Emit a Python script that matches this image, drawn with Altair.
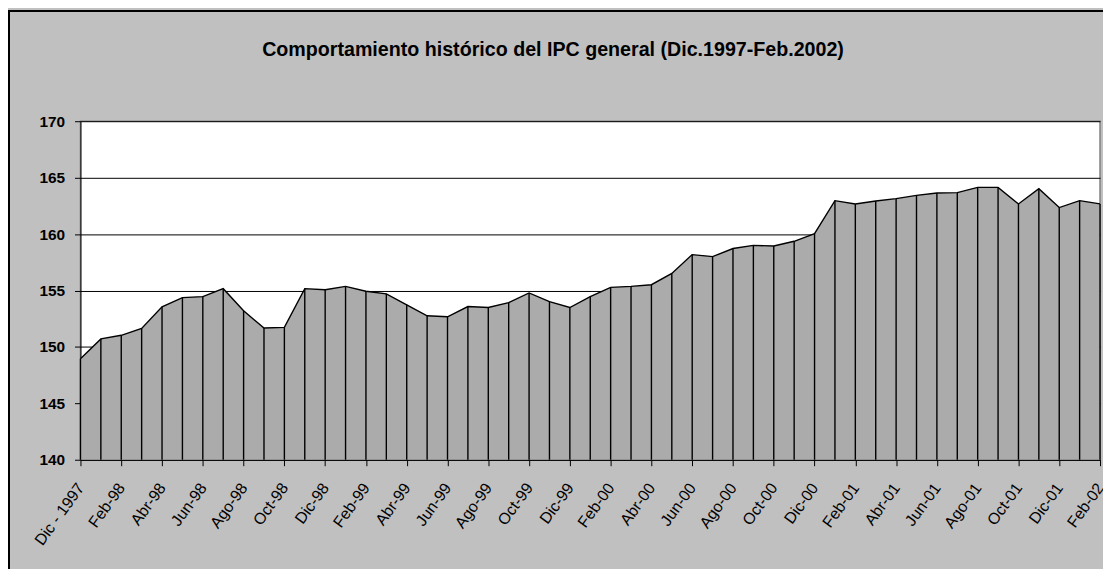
import altair as alt
import pandas as pd

months = [
    "Dic - 1997", "Ene-98", "Feb-98", "Mar-98", "Abr-98", "May-98", "Jun-98", "Jul-98",
    "Ago-98", "Sep-98", "Oct-98", "Nov-98", "Dic-98", "Ene-99", "Feb-99", "Mar-99",
    "Abr-99", "May-99", "Jun-99", "Jul-99", "Ago-99", "Sep-99", "Oct-99", "Nov-99",
    "Dic-99", "Ene-00", "Feb-00", "Mar-00", "Abr-00", "May-00", "Jun-00", "Jul-00",
    "Ago-00", "Sep-00", "Oct-00", "Nov-00", "Dic-00", "Ene-01", "Feb-01", "Mar-01",
    "Abr-01", "May-01", "Jun-01", "Jul-01", "Ago-01", "Sep-01", "Oct-01", "Nov-01",
    "Dic-01", "Ene-02", "Feb-02",
]
ipc = [
    148.95, 150.71, 151.03, 151.64, 153.55, 154.37, 154.46, 155.16, 153.20, 151.67,
    151.73, 155.16, 155.07, 155.36, 154.93, 154.70, 153.73, 152.76, 152.67, 153.58,
    153.49, 153.93, 154.78, 154.02, 153.49, 154.46, 155.28, 155.36, 155.51, 156.51,
    158.18, 158.00, 158.72, 159.00, 158.94, 159.36, 160.03, 162.96, 162.67, 162.93,
    163.14, 163.43, 163.64, 163.67, 164.14, 164.14, 162.67, 164.02, 162.35, 162.96,
    162.67,
]
tick_labels = [m if i % 2 == 0 else "" for i, m in enumerate(months)]
title_text = ["Comportamiento histórico del IPC general (Dic.1997-Feb.2002)"]

df = pd.DataFrame({"idx": list(range(len(ipc))), "mes": months, "ipc": ipc, "base": [140] * len(ipc)})

W, H = 1027, 341
PL, PT, PR, PB = 73, 112, 3, 108

label_js = "[" + ",".join("'" + s + "'" for s in tick_labels) + "]"

x = alt.X(
    "idx:Q",
    scale=alt.Scale(domain=[0, len(ipc) - 1], nice=False, zero=False),
    axis=alt.Axis(
        values=list(range(len(ipc))),
        labelExpr=label_js + "[datum.value]",
        labelAngle=-54,
        labelAlign="right",
        labelBaseline="middle",
        labelFont="Liberation Sans",
        labelFontSize=16,
        labelColor="black",
        labelPadding=19,
        labelOverlap=False,
        labelBound=False,
        tickColor="black",
        tickSize=6,
        domainColor="black",
        grid=False,
        title=None,
    ),
)
y = alt.Y(
    "ipc:Q",
    scale=alt.Scale(domain=[140, 170], nice=False, zero=False),
    axis=alt.Axis(
        values=[140, 145, 150, 155, 160, 165, 170],
        labelFont="Liberation Sans",
        labelFontSize=15.5,
        labelFontWeight="bold",
        labelColor="black",
        labelPadding=10,
        tickColor="black",
        tickSize=6,
        domainColor="black",
        gridColor="black",
        gridWidth=1,
        title=None,
    ),
)

area = alt.Chart(df).mark_area(
    color="#ABABAB", line={"color": "black", "strokeWidth": 1.4}, opacity=1
).encode(x=x, y=y, y2="base:Q")

drops = alt.Chart(df).mark_rule(color="black", strokeWidth=1.4).encode(
    x="idx:Q", y="ipc:Q", y2="base:Q"
)

frame = alt.Chart(df).mark_rect(fill=None, stroke="black", strokeWidth=2).encode(
    x=alt.value(-PL + 0.5), x2=alt.value(W + PR + 10),
    y=alt.value(-PT + 1), y2=alt.value(H + PB + 10),
)

title = alt.Chart(pd.DataFrame({"t": title_text})).mark_text(
    font="Liberation Sans", fontSize=19.8, fontWeight="bold", color="black",
    align="center", baseline="alphabetic",
).encode(text="t:N", x=alt.value(476), y=alt.value(-66))

chart = alt.layer(area, drops, frame, title).properties(
    width=W,
    height=H,
    padding={"left": PL, "top": PT, "right": PR, "bottom": PB},
    autosize=alt.AutoSizeParams(type="none"),
    background="#C0C0C0",
).configure_view(fill="white", stroke="#808080", strokeWidth=1.5)

chart.save("out.html", embed_options={"renderer": "svg", "actions": False})
